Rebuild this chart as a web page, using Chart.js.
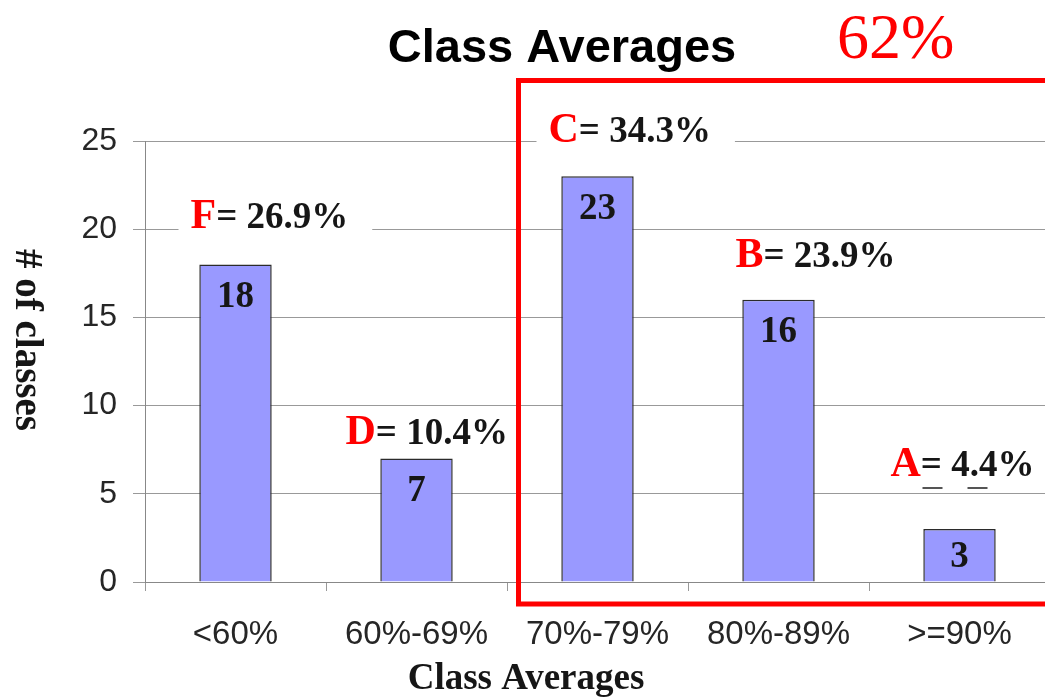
<!DOCTYPE html>
<html>
<head>
<meta charset="utf-8">
<title>Class Averages</title>
<script src="https://cdn.jsdelivr.net/npm/chart.js@4.4.1/dist/chart.umd.min.js"></script>
<style>
  html, body { margin: 0; padding: 0; background: #fff; overflow: hidden; }
  #wrap { width: 1050px; height: 698px; }
</style>
</head>
<body>
<div id="wrap"><canvas id="gradeChart" width="1050" height="698"></canvas></div>
<script>
/* --------------------------------------------
   DATA
--------------------------------------------- */
const categories = ["<60%", "60%-69%", "70%-79%", "80%-89%", ">=90%"];
const classCounts = [18, 7, 23, 16, 3];
const gradeLetters = ["F", "D", "C", "B", "A"];
const gradeShares = ["26.9%", "10.4%", "34.3%", "23.9%", "4.4%"];
const yTicks = [0, 5, 10, 15, 20, 25];
const passShare = "62%";
const chartTitle = "Class Averages";
const xTitle = "Class Averages";
const yTitle = "# of classes";

/* --------------------------------------------
   STYLE
--------------------------------------------- */
const SANS = "'Liberation Sans', Arial, sans-serif";
const SERIF = "'Liberation Serif', 'Times New Roman', serif";
const RED = "#ff0000";
const INK = "#161616";

// where each grade label sits, relative to its bar (centre x, top y)
const gradeLabelOffsets = [
  { dx: -45, dy: -50 },
  { dx: -71, dy: -29 },
  { dx: -49, dy: -48 },
  { dx: -43, dy: -47 },
  { dx: -69, dy: -67 },
];

/* --------------------------------------------
   TEXT + OUTLINE PLUGIN
--------------------------------------------- */
const annotations = {
  id: "annotations",
  afterDatasetsDraw(chart) {
    const { ctx } = chart;
    const bars = chart.getDatasetMeta(0).data;
    ctx.save();

    // counts inside the bars
    ctx.font = "bold 37px " + SERIF;
    ctx.fillStyle = INK;
    ctx.textAlign = "center";
    ctx.textBaseline = "middle";
    bars.forEach((bar, i) => {
      const h = bar.base - bar.y;
      ctx.fillText(String(classCounts[i]), bar.x, bar.y + Math.min(31, h / 2) + 2);
    });

    // grade labels, "F= 26.9%" etc.
    ctx.textAlign = "left";
    ctx.textBaseline = "alphabetic";
    bars.forEach((bar, i) => {
      const off = gradeLabelOffsets[i];
      const left = bar.x + off.dx;
      const cy = bar.y + off.dy;
      const rest = "= " + gradeShares[i];

      ctx.font = "bold 42px " + SERIF;
      const lw = ctx.measureText(gradeLetters[i]).width;
      ctx.font = "bold 37px " + SERIF;
      const rw = ctx.measureText(rest).width;

      ctx.fillStyle = "#fff";
      ctx.fillRect(left - 12, cy - 15, lw + rw + 36, 31);

      ctx.font = "bold 42px " + SERIF;
      ctx.fillStyle = RED;
      ctx.fillText(gradeLetters[i], left, cy + 14);
      ctx.font = "bold 37px " + SERIF;
      ctx.fillStyle = INK;
      ctx.fillText(rest, left + lw, cy + 14);

      if (gradeLetters[i] === "A") {
        ctx.strokeStyle = "#555";
        ctx.lineWidth = 2;
        ctx.beginPath();
        ctx.moveTo(left + 32, cy + 26); ctx.lineTo(left + 52, cy + 26);
        ctx.moveTo(left + 77, cy + 26); ctx.lineTo(left + 97, cy + 26);
        ctx.stroke();
      }
    });
    ctx.restore();
  },
  afterDraw(chart) {
    const { ctx, chartArea } = chart;
    ctx.save();

    // title
    ctx.font = "bold 47px " + SANS;
    ctx.fillStyle = "#000";
    ctx.textAlign = "center";
    ctx.textBaseline = "alphabetic";
    ctx.fillText(chartTitle, 562, 62);

    // 62% call-out
    ctx.font = "64px " + SERIF;
    ctx.fillStyle = RED;
    ctx.textAlign = "left";
    ctx.fillText(passShare, 837, 58);

    // red box round C, B, A
    ctx.strokeStyle = RED;
    ctx.lineWidth = 5;
    ctx.strokeRect(518.5, 80.5, chartArea.right + 20 - 518.5, 604 - 80.5);

    // axis titles
    ctx.font = "bold 37px " + SERIF;
    ctx.fillStyle = INK;
    ctx.textAlign = "center";
    ctx.fillText(xTitle, 526, 689);

    ctx.translate(26, 340);
    ctx.rotate(Math.PI / 2);
    ctx.font = "bold 39px " + SERIF;
    ctx.textBaseline = "middle";
    ctx.fillText(yTitle, 0, 0);
    ctx.restore();
  },
};

/* --------------------------------------------
   CHART
--------------------------------------------- */
new Chart(document.getElementById("gradeChart"), {
  type: "bar",
  data: {
    labels: categories,
    datasets: [
      {
        data: classCounts,
        backgroundColor: "#9999ff",
        borderColor: "#2b2b2b",
        borderWidth: 1.5,
        barPercentage: 0.4,
        categoryPercentage: 1,
      },
    ],
  },
  options: {
    responsive: false,
    animation: false,
    devicePixelRatio: 1,
    layout: { padding: { top: 141, right: 0, bottom: 0, left: 0 } },
    plugins: {
      legend: { display: false },
      tooltip: { enabled: false },
    },
    scales: {
      x: {
        grid: { drawOnChartArea: false, tickLength: 9, color: "#999" },
        border: { color: "#888" },
        ticks: { font: { family: SANS, size: 33 }, color: "#262626", padding: 24 },
        afterFit(scale) { scale.height = 116; },
      },
      y: {
        min: 0,
        max: 25,
        afterBuildTicks(scale) { scale.ticks = yTicks.map((v) => ({ value: v })); },
        grid: { color: "#999", tickLength: 12 },
        border: { color: "#888" },
        ticks: { font: { family: SANS, size: 32 }, color: "#262626", padding: 16 },
        afterFit(scale) { scale.width = 145; },
      },
    },
  },
  plugins: [annotations],
});
</script>
</body>
</html>
